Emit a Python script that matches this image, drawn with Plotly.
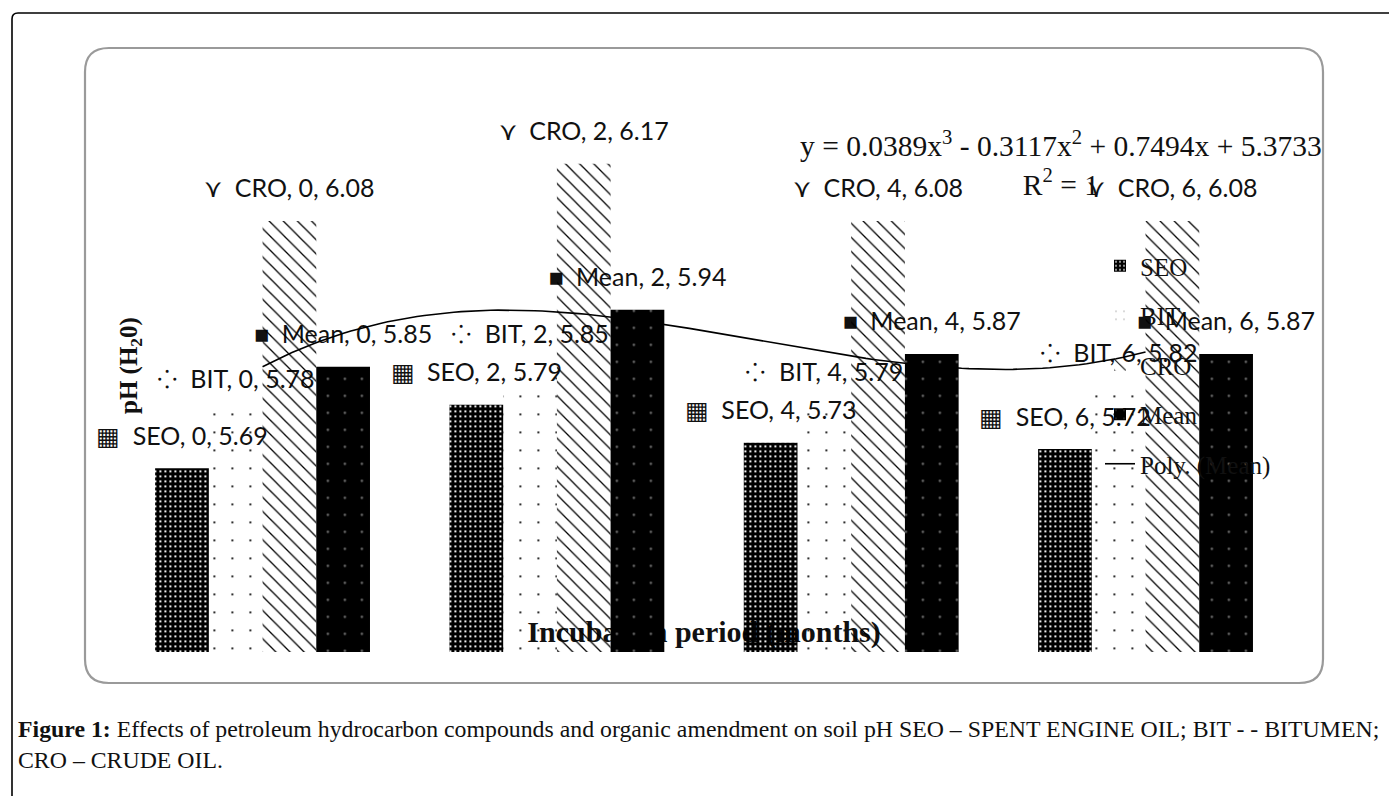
import plotly.graph_objects as go

# ---- data -------------------------------------------------------------
months = [0, 2, 4, 6]
seo = [5.69, 5.79, 5.73, 5.72]
bit = [5.78, 5.85, 5.79, 5.82]
cro = [6.08, 6.17, 6.08, 6.08]
mean = [5.85, 5.94, 5.87, 5.87]
series_names = ["SEO", "BIT", "CRO", "Mean"]
series_keys = ["\u25a6", "\u2058", "\u22ce", "\u25a0"]

# cubic trendline of the Mean series (x = category index 1..4)
trend_coef = [0.0389, -0.3117, 0.7494, 5.3733]
trend_r2 = 1
trend_name = "Poly. (Mean)"

x_title = "Incubation period (months)"
y_title = "pH (H<sub>2</sub>0)"
caption = ("<b>Figure 1:</b> Effects of petroleum hydrocarbon compounds and organic "
           "amendment on soil pH SEO \u2013 SPENT ENGINE OIL; BIT - - BITUMEN;<br>"
           "CRO \u2013 CRUDE OIL.")

# ---- geometry helpers -------------------------------------------------
W, H = 1389, 796


def px(x):
    return x / W


def py(y):
    return 1 - y / H


X_RANGE = [-1, 7]
Y_RANGE = [5.4, 6.3]
X_DOMAIN = [px(115.4), px(1292.7)]
Y_DOMAIN = [py(652), py(81.4)]
BARGAP = 0.27
BAR_W = 2 * (1 - BARGAP) / 4
LABEL_LIFT = 0.047

LABEL_FONT = dict(family="Lato, Calibri, sans-serif", size=25, color="#111111")
SERIF = "Liberation Serif, Times New Roman, serif"

fig = go.Figure()

# ---- data labels (drawn underneath the bars) ---------------------------
all_vals = [seo, bit, cro, mean]
for i, (name, key, vals) in enumerate(zip(series_names, series_keys, all_vals)):
    fig.add_trace(go.Scatter(
        x=[m + (i - 1.5) * BAR_W for m in months],
        y=[v + LABEL_LIFT for v in vals],
        text=[f"{key}\u2002{name}, {m}, {v:.2f}" for m, v in zip(months, vals)],
        mode="text", textposition="middle center",
        textfont=LABEL_FONT, showlegend=False, hoverinfo="skip",
        cliponaxis=False, xaxis="x", yaxis="y",
    ))

# category axis title, also beneath the bars
fig.add_trace(go.Scatter(
    x=[sum(X_RANGE) / 2], y=[Y_RANGE[0] + 0.027], text=[f"<b>{x_title}</b>"],
    mode="text", textfont=dict(family=SERIF, size=30, color="#111111"),
    showlegend=False, hoverinfo="skip", cliponaxis=False, xaxis="x", yaxis="y",
))

# ---- bars -------------------------------------------------------------
patterns = {
    "SEO": dict(shape="+", size=5, solidity=0.86, fillmode="replace", fgcolor="black"),
    "BIT": dict(shape=".", size=18, solidity=0.012, fillmode="replace", fgcolor="black"),
    "CRO": dict(shape="\\", size=10, solidity=0.13, fillmode="replace", fgcolor="black"),
    "Mean": dict(shape=".", size=17, solidity=0.014, fillmode="overlay",
                 fgcolor="white", bgcolor="black"),
}
for name, vals in zip(series_names, all_vals):
    fig.add_trace(go.Bar(
        x=months, y=vals, name=name, legendgroup=name,
        marker=dict(color="black", line=dict(width=0), pattern=patterns[name]),
        xaxis="x2", yaxis="y2", hoverinfo="skip",
    ))

# ---- polynomial trendline of the Mean --------------------------------
n_pts = 121
t_months = [months[0] + (months[-1] - months[0]) * k / (n_pts - 1) for k in range(n_pts)]


def poly(m):
    t = m / 2 + 1
    c3, c2, c1, c0 = trend_coef
    return ((c3 * t + c2) * t + c1) * t + c0


fig.add_trace(go.Scatter(
    x=t_months, y=[poly(m) for m in t_months], mode="lines", name=trend_name,
    legendgroup=trend_name, line=dict(color="black", width=1.6),
    xaxis="x2", yaxis="y2", hoverinfo="skip",
))

# ---- frames -------------------------------------------------------------
def rounded_rect(x0, y0, x1, y1, r):
    return (f"M {px(x0)},{py(y0 + r)} Q {px(x0)},{py(y0)} {px(x0 + r)},{py(y0)} "
            f"L {px(x1 - r)},{py(y0)} Q {px(x1)},{py(y0)} {px(x1)},{py(y0 + r)} "
            f"L {px(x1)},{py(y1 - r)} Q {px(x1)},{py(y1)} {px(x1 - r)},{py(y1)} "
            f"L {px(x0 + r)},{py(y1)} Q {px(x0)},{py(y1)} {px(x0)},{py(y1 - r)} Z")


shapes = [
    # outer figure border (open at right and bottom)
    dict(type="path", xref="paper", yref="paper",
         path=(f"M {px(12)},{py(796)} L {px(12)},{py(19)} Q {px(12)},{py(13)} "
               f"{px(18)},{py(13)} L {px(1389)},{py(13)}"),
         line=dict(color="black", width=1.6)),
    # chart area box
    dict(type="path", xref="paper", yref="paper", path=rounded_rect(85, 48, 1323, 683, 24),
         line=dict(color="#9a9a9a", width=2.2), layer="below"),
]

eq_text = (f"y = {trend_coef[0]}x<sup>3</sup> - {abs(trend_coef[1])}x<sup>2</sup> "
           f"+ {trend_coef[2]}x + {trend_coef[3]}<br>R<sup>2</sup> = {trend_r2}")

annotations = [
    dict(text=eq_text, x=px(1061), y=py(163), xref="paper", yref="paper",
         xanchor="center", yanchor="middle", align="center", showarrow=False,
         font=dict(family=SERIF, size=29.5, color="#111111")),
    dict(text=f"<b>{y_title}</b>", x=px(130), y=py(366), xref="paper", yref="paper",
         textangle=-90, showarrow=False, xanchor="center", yanchor="middle",
         font=dict(family=SERIF, size=25, color="#111111")),
    dict(text=caption, x=px(16), y=py(714), xref="paper", yref="paper",
         xanchor="left", yanchor="top", align="left", showarrow=False,
         font=dict(family=SERIF, size=23.8, color="#111111")),
]

axis_common = dict(visible=False, showgrid=False, zeroline=False, fixedrange=True)
fig.update_layout(
    width=W, height=H, margin=dict(l=0, r=0, t=0, b=0),
    paper_bgcolor="white", plot_bgcolor="rgba(0,0,0,0)",
    barmode="group", bargap=BARGAP, bargroupgap=0,
    xaxis=dict(range=X_RANGE, domain=X_DOMAIN, **axis_common),
    yaxis=dict(range=Y_RANGE, domain=Y_DOMAIN, **axis_common),
    xaxis2=dict(range=X_RANGE, overlaying="x", **axis_common),
    yaxis2=dict(range=Y_RANGE, overlaying="y", **axis_common),
    showlegend=True,
    legend=dict(x=px(1100), y=py(243), xanchor="left", yanchor="top",
                bgcolor="rgba(0,0,0,0)", tracegroupgap=14,
                font=dict(family=SERIF, size=25, color="#111111")),
    shapes=shapes, annotations=annotations,
)

fig.write_html("out.html")
